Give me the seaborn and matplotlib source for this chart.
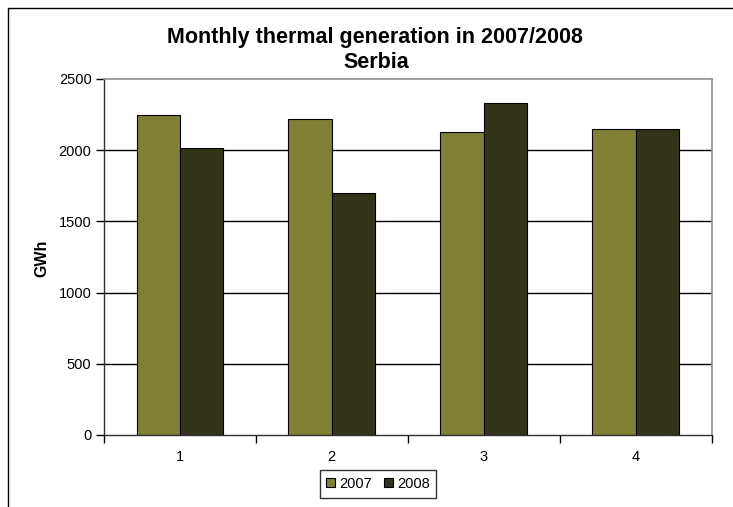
import matplotlib
matplotlib.use("Agg")
import matplotlib.pyplot as plt
import seaborn as sns
import pandas as pd
from matplotlib.patches import Rectangle, Patch
from matplotlib.ticker import FixedLocator, NullFormatter

months = ["1", "2", "3", "4"]
years = ["2007", "2008"]
values_2007 = [2248, 2222, 2125, 2150]
values_2008 = [2015, 1698, 2333, 2150]
colors = ["#808035", "#333318"]
yticks = [0, 500, 1000, 1500, 2000, 2500]

df = pd.DataFrame({
    "month": months * 2,
    "year": [years[0]] * 4 + [years[1]] * 4,
    "GWh": values_2007 + values_2008,
})

sns.set_style("white")
plt.rcParams["font.family"] = ["Liberation Sans", "DejaVu Sans"]
plt.rcParams["text.color"] = "black"
plt.rcParams["xtick.color"] = "black"
plt.rcParams["ytick.color"] = "black"
plt.rcParams["axes.labelcolor"] = "black"

fig = plt.figure(figsize=(7.33, 5.07), dpi=100)
ax = fig.add_axes([104 / 733, 1 - 435 / 507, (711.5 - 104) / 733, (435 - 79) / 507])

sns.barplot(data=df, x="month", y="GWh", hue="year", palette=colors,
            width=2 / 3.5, edgecolor="black", linewidth=0.8, saturation=1,
            ax=ax, legend=False)

ax.set_xlim(-0.5, 3.5)
ax.set_ylim(0, 2500)
ax.set_yticks(yticks)
ax.set_yticklabels([str(t) for t in yticks], fontsize=10.5)
for y in yticks[1:-1]:
    ax.axhline(y, color="black", lw=1, zorder=0)

# x: labels at centers (minor, no tick), major ticks at boundaries
ax.xaxis.set_major_locator(FixedLocator([-0.5, 0.5, 1.5, 2.5, 3.5]))
ax.xaxis.set_major_formatter(NullFormatter())
ax.xaxis.set_minor_locator(FixedLocator([0, 1, 2, 3]))
ax.set_xticklabels(months, minor=True, fontsize=10.5)
ax.tick_params(axis="x", which="major", direction="out", length=6, width=1, color="black", bottom=True)
ax.tick_params(axis="x", which="minor", length=0, pad=11, bottom=True, labelcolor="black")
ax.tick_params(axis="y", direction="out", length=6, width=1, color="black", left=True, pad=3,
               labelcolor="black")

ax.set_xlabel("")
ax.set_ylabel("")
fig.text(42 / 733, 1 - 258 / 507, "GWh", rotation=90, ha="center", va="center",
         fontsize=11.5, fontweight="bold", color="black")

for side in ["left", "bottom"]:
    ax.spines[side].set_color("#303030")
    ax.spines[side].set_linewidth(1)
for side in ["top", "right"]:
    ax.spines[side].set_color("#909090")
    ax.spines[side].set_linewidth(1.2)
    ax.spines[side].set_visible(True)

fig.text(375 / 733, 1 - 37 / 507, "Monthly thermal generation in 2007/2008",
         ha="center", va="center", fontsize=15.5, fontweight="bold", color="black")
fig.text(376 / 733, 1 - 63 / 507, "Serbia",
         ha="center", va="center", fontsize=15.5, fontweight="bold", color="black")

handles = [Patch(facecolor=c, edgecolor="black", linewidth=0.8) for c in colors]
leg = fig.legend(handles, years, loc="center", bbox_to_anchor=(378 / 733, 1 - 484 / 507),
                 ncol=2, frameon=True, fontsize=10.5, handlelength=0.6, handleheight=0.6,
                 handletextpad=0.3, columnspacing=0.8, borderpad=0.45, fancybox=False)
leg.get_frame().set_edgecolor("black")
leg.get_frame().set_linewidth(1)

fig.patches.append(Rectangle((8 / 733, -0.2), 1.2, 0.2 + (507 - 7.5) / 507,
                             transform=fig.transFigure, fill=False, edgecolor="black",
                             linewidth=1, figure=fig))

fig.savefig("out.png", dpi=100)
